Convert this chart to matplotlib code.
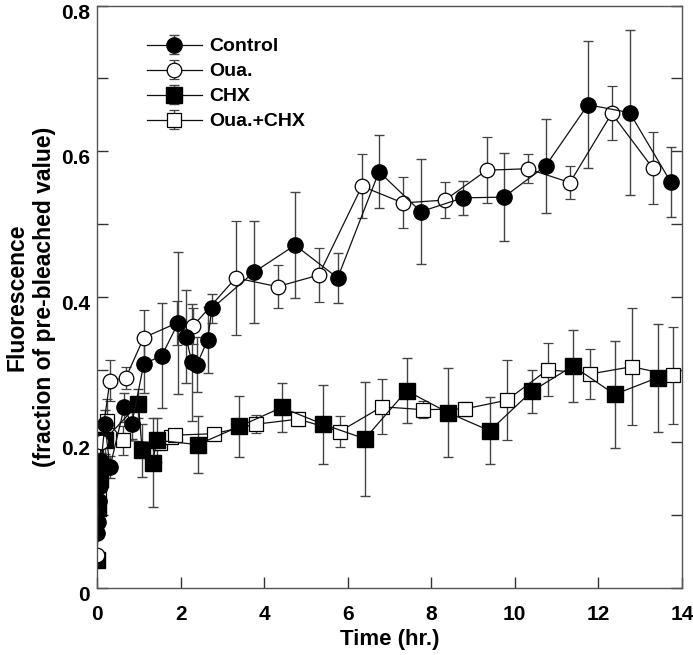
import matplotlib.pyplot as plt
import matplotlib.transforms as mtransforms
from matplotlib.ticker import MultipleLocator, FuncFormatter

plt.rcParams['font.family'] = ['Liberation Sans', 'DejaVu Sans']
plt.rcParams['font.weight'] = 'bold'

# Control (filled circles)
ctrl_t = [0.0, 0.02, 0.04, 0.06, 0.08, 0.1, 0.19, 0.31, 0.65, 0.83, 1.12, 1.55, 1.94, 2.13,
          2.27, 2.39, 2.65, 2.75, 3.76, 4.74, 5.76, 6.75, 7.75, 8.76, 9.74, 10.74, 11.75,
          12.75, 13.73]
ctrl_y = [0.075, 0.09, 0.12, 0.14, 0.155, 0.175, 0.225, 0.166, 0.248, 0.225, 0.308, 0.319,
          0.364, 0.345, 0.31, 0.307, 0.341, 0.384, 0.434, 0.471, 0.426, 0.572, 0.517, 0.536,
          0.537, 0.58, 0.664, 0.653, 0.558]
ctrl_e = [0.005, 0.005, 0.008, 0.008, 0.01, 0.01, 0.02, 0.015, 0.02, 0.02, 0.04, 0.072,
          0.098, 0.064, 0.08, 0.038, 0.045, 0.02, 0.07, 0.073, 0.034, 0.05, 0.072, 0.023,
          0.06, 0.065, 0.087, 0.113, 0.048]

# Oua. (open circles)
oua_t = [0.0, 0.05, 0.1, 0.31, 0.69, 1.12, 1.91, 2.3, 3.32, 4.32, 5.31, 6.34, 7.32, 8.33,
         9.33, 10.31, 11.32, 12.32, 13.3]
oua_y = [0.045, 0.15, 0.2, 0.285, 0.289, 0.344, 0.364, 0.36, 0.426, 0.414, 0.43, 0.552,
         0.529, 0.533, 0.574, 0.576, 0.557, 0.652, 0.577]
oua_e = [0.005, 0.01, 0.015, 0.028, 0.015, 0.038, 0.03, 0.025, 0.078, 0.03, 0.037, 0.044,
         0.035, 0.025, 0.045, 0.02, 0.023, 0.037, 0.049]

# CHX (filled squares)
chx_t = [0.0, 0.03, 0.06, 0.19, 0.99, 1.08, 1.33, 1.43, 2.41, 3.41, 4.42, 5.41, 6.41, 7.41,
         8.4, 9.4, 10.4, 11.39, 12.39, 13.42]
chx_y = [0.038, 0.11, 0.15, 0.204, 0.253, 0.189, 0.172, 0.203, 0.197, 0.222, 0.248, 0.225,
         0.205, 0.271, 0.241, 0.216, 0.27, 0.305, 0.266, 0.289]
chx_e = [0.005, 0.01, 0.01, 0.02, 0.02, 0.036, 0.061, 0.03, 0.039, 0.042, 0.033, 0.054,
         0.078, 0.045, 0.061, 0.046, 0.03, 0.05, 0.074, 0.074]

# Oua.+CHX (open squares)
ouachx_t = [0.0, 0.05, 0.1, 0.23, 0.63, 1.5, 1.77, 1.87, 2.8, 3.8, 4.82, 5.81, 6.82, 7.8,
            8.8, 9.81, 10.79, 11.8, 12.8, 13.78]
ouachx_y = [0.04, 0.13, 0.17, 0.23, 0.203, 0.199, 0.208, 0.21, 0.212, 0.225, 0.232, 0.215,
            0.249, 0.245, 0.246, 0.258, 0.3, 0.294, 0.304, 0.292]
ouachx_e = [0.005, 0.01, 0.01, 0.03, 0.02, 0.01, 0.008, 0.008, 0.005, 0.012, 0.01, 0.021,
            0.038, 0.012, 0.01, 0.055, 0.036, 0.034, 0.08, 0.067]

fig = plt.figure(figsize=(6.93, 6.55), dpi=100)
ax = fig.add_axes([0.14, 0.1023, 0.844, 0.889])

ebkw = dict(color='#111111', lw=0.9, ecolor='#444444', elinewidth=1.0, capsize=3.5, capthick=1.0)
ax.errorbar(ouachx_t, ouachx_y, yerr=ouachx_e, marker='s', ms=10, mfc='white', mec='black',
            mew=0.9, label='Oua.+CHX', **ebkw)
ax.errorbar(chx_t, chx_y, yerr=chx_e, marker='s', ms=11, mfc='black', mec='black',
            label='CHX', **ebkw)
ax.errorbar(oua_t, oua_y, yerr=oua_e, marker='o', ms=10.5, mfc='white', mec='black',
            mew=0.9, label='Oua.', **ebkw)
ax.errorbar(ctrl_t, ctrl_y, yerr=ctrl_e, marker='o', ms=11, mfc='black', mec='black',
            label='Control', **ebkw)

ax.set_xlim(0, 14)
ax.set_ylim(0, 0.8)
ax.xaxis.set_major_locator(MultipleLocator(2))
ax.yaxis.set_major_locator(MultipleLocator(0.2))
ax.yaxis.set_minor_locator(MultipleLocator(0.1))
ax.yaxis.set_major_formatter(FuncFormatter(lambda v, p: '0' if abs(v) < 1e-9 else f'{v:.1f}'))
ax.tick_params(which='both', direction='in', length=8, width=1, color='#333333',
               labelsize=15, right=True, top=False)
ax.tick_params(axis='y', pad=5)
ax.tick_params(axis='x', pad=12)
for s in ax.spines.values():
    s.set_color('#555555')
    s.set_linewidth(1.0)

# y tick labels sit a little below their ticks in the original
shift = mtransforms.ScaledTranslation(0, -4 / 72, fig.dpi_scale_trans)
for lab in ax.get_yticklabels():
    lab.set_transform(lab.get_transform() + shift)

ax.set_xlabel('Time (hr.)', fontsize=16, fontweight='bold', labelpad=4)
ax.set_ylabel('Fluorescence\n(fraction of pre-bleached value)', fontsize=16.5,
              fontweight='bold', labelpad=4)

h, l = ax.get_legend_handles_labels()
ax.legend(h[::-1], l[::-1], loc='upper left', bbox_to_anchor=(0.055, 0.975), frameon=False,
          handlelength=2.85, handletextpad=0.36, labelspacing=0.38,
          prop={'weight': 'bold', 'size': 14})

fig.savefig('out.png', dpi=100)
